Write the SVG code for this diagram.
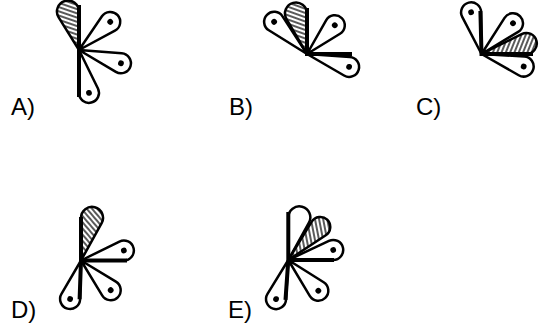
<svg xmlns="http://www.w3.org/2000/svg" xmlns:xlink="http://www.w3.org/1999/xlink" width="544" height="333" viewBox="0 0 544 333">
<style>
.o{fill:#fff;stroke:#000;stroke-width:2.5;stroke-linejoin:round}
.h{stroke:#000;stroke-width:2.5;stroke-linejoin:round}
.d{fill:#000;stroke:none}
.t{fill:none;stroke:#000;stroke-width:4;stroke-linejoin:miter}
text{font-family:"Liberation Sans",Arial,sans-serif;font-size:24px;fill:#000}
</style>
<defs>
<pattern id="hatch" patternUnits="userSpaceOnUse" width="4" height="4" patternTransform="rotate(-55)">
<rect width="4" height="4" fill="#fff"/>
<line x1="0" y1="2" x2="4" y2="2" stroke="#000" stroke-width="1.3"/>
</pattern>
<path id="s40" d="M0,0 L37.50,-9.68 A10,10 0 1 1 37.50,9.68 Z"/>
<path id="s41" d="M0,0 L38.56,-9.70 A10,10 0 1 1 38.56,9.70 Z"/>
<path id="s42" d="M0,0 L39.62,-9.71 A10,10 0 1 1 39.62,9.71 Z"/>
<path id="s43" d="M0,0 L40.67,-9.73 A10,10 0 1 1 40.67,9.73 Z"/>
<path id="s44" d="M0,0 L41.73,-9.74 A10,10 0 1 1 41.73,9.74 Z"/>
<path id="s46" d="M0,0 L43.83,-9.76 A10,10 0 1 1 43.83,9.76 Z"/>
<path id="b40" d="M0,0 L36.98,-10.58 A11,11 0 1 1 36.98,10.58 Z"/>
<path id="b42" d="M0,0 L39.12,-10.62 A11,11 0 1 1 39.12,10.62 Z"/>
<path id="b44" d="M0,0 L41.25,-10.65 A11,11 0 1 1 41.25,10.65 Z"/>
<path id="bl46" d="M0,0 L43.60,-10.22 A10.5,10.5 0 1 1 43.60,10.22 Z"/>
<g id="d40" class="o"><use href="#s40"/><circle class="d" cx="40" cy="0" r="2.9"/></g>
<g id="d41" class="o"><use href="#s41"/><circle class="d" cx="41" cy="0" r="2.9"/></g>
<g id="d42" class="o"><use href="#s42"/><circle class="d" cx="42" cy="0" r="2.9"/></g>
<g id="d43" class="o"><use href="#s43"/><circle class="d" cx="43" cy="0" r="2.9"/></g>
<g id="d44" class="o"><use href="#s44"/><circle class="d" cx="44" cy="0" r="2.9"/></g>
<g id="d46" class="o"><use href="#s46"/><circle class="d" cx="46" cy="0" r="2.9"/></g>
</defs>

<g id="figA">
<use href="#b40" class="h" fill="url(#hatch)" transform="translate(79,50) rotate(-106)"/>
<use href="#d42" transform="translate(79,50) rotate(-42)"/>
<use href="#d44" transform="translate(79,50) rotate(17.6)"/>
<use href="#d44" transform="translate(79,50) rotate(76.9)"/>
<path class="t" d="M79,5 V97"/>
<text x="11" y="115">A)</text>
</g>

<g id="figB">
<use href="#d46" transform="translate(307,54) rotate(-135.6)"/>
<use href="#b42" class="h" fill="url(#hatch)" transform="translate(307,54) rotate(-105.2)"/>
<use href="#d40" transform="translate(307,54) rotate(-46)"/>
<use href="#d44" transform="translate(307,54) rotate(17)"/>
<path class="t" d="M307,8 V54 H352"/>
<text x="229" y="115">B)</text>
</g>

<g id="figC">
<use href="#d43" transform="translate(481.5,54) rotate(-104)"/>
<use href="#d44" transform="translate(481.5,54) rotate(-44.3)"/>
<use href="#bl46" class="h" fill="url(#hatch)" transform="translate(481.5,54) rotate(-13.2)"/>
<use href="#d44" transform="translate(481.5,54) rotate(16.6)"/>
<path class="t" d="M480.4,11 L481.5,54 H533"/>
<text x="416" y="115">C)</text>
</g>

<g id="figD">
<use href="#b44" class="h" fill="url(#hatch)" transform="translate(81,260.5) rotate(-75.5)"/>
<use href="#d44" transform="translate(81,260.5) rotate(-13.1)"/>
<use href="#d42" transform="translate(81,260.5) rotate(45)"/>
<use href="#d40" transform="translate(81,260.5) rotate(105.8)"/>
<path class="t" d="M81,217 V260.5 H127 M81,260.5 L79.6,299.3"/>
<text x="11" y="318">D)</text>
</g>

<g id="figE">
<use href="#b44" class="o" transform="translate(288.3,260) rotate(-75.5)"/>
<use href="#s46" class="h" fill="url(#hatch)" transform="translate(288.3,260) rotate(-46)"/>
<use href="#d46" transform="translate(288.3,260) rotate(-12.6)"/>
<use href="#d43" transform="translate(288.3,260) rotate(45.7)"/>
<use href="#d41" transform="translate(288.3,260) rotate(107.4)"/>
<path class="t" d="M288.3,212 V260 H334 M288.3,260 L285.5,299.8"/>
<text x="228" y="318">E)</text>
</g>

<g id="connectors"></g>
</svg>
